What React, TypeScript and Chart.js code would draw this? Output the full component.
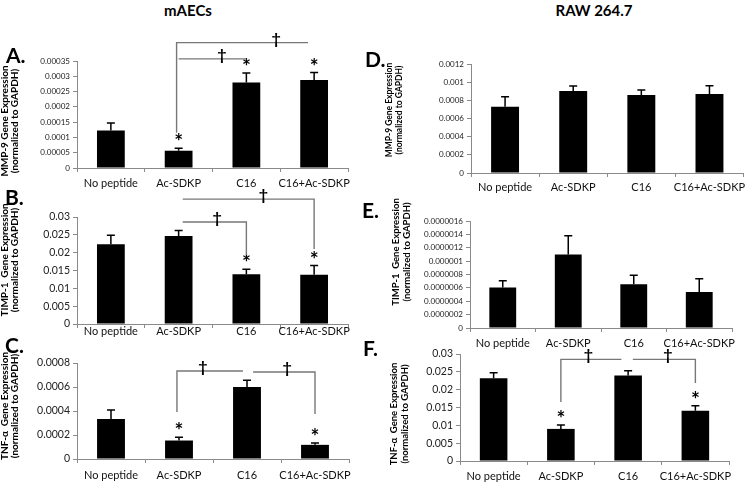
import React, { useEffect, useRef } from "react";
import { Chart, registerables } from "chart.js";

Chart.register(...registerables);

// ---------- DATA ----------
const categories = ["No peptide", "Ac-SDKP", "C16", "C16+Ac-SDKP"];

// A. mAECs – MMP-9
const aecsMmp9 = [0.000123, 0.0000565, 0.00028, 0.000288];
const aecsMmp9Err = [0.000024, 0.0000085, 0.000031, 0.000024];
const aecsMmp9Ticks = [0, 0.00005, 0.0001, 0.00015, 0.0002, 0.00025, 0.0003, 0.00035];
const aecsMmp9Stars = [false, true, true, true];
const aecsMmp9Brackets = [
  { from: 0.97, to: 2.91, level: 0.00041, fromDrop: 0.000115, toDrop: null, mark: 2.44 },
  { from: 1.0, to: 2.0, level: 0.000357, fromDrop: null, toDrop: null, mark: 1.64 },
];

// B. mAECs – TIMP-1
const aecsTimp1 = [0.02235, 0.0247, 0.01397, 0.0138];
const aecsTimp1Err = [0.0025, 0.0015, 0.0014, 0.0026];
const aecsTimp1Ticks = [0, 0.005, 0.01, 0.015, 0.02, 0.025, 0.03];
const aecsTimp1Stars = [false, false, true, true];
const aecsTimp1Brackets = [
  { from: 1.06, to: 3.0, level: 0.035, fromDrop: null, toDrop: 0.021, mark: 2.25 },
  { from: 1.06, to: 2.0, level: 0.0286, fromDrop: null, toDrop: 0.01935, mark: 1.57 },
];

// C. mAECs – TNF-α
const aecsTnf = [0.000334, 0.000154, 0.000601, 0.000118];
const aecsTnfErr = [0.000074, 0.000028, 0.000056, 0.000015];
const aecsTnfTicks = [0, 0.0002, 0.0004, 0.0006, 0.0008];
const aecsTnfStars = [false, true, false, true];
const aecsTnfBrackets = [
  { from: 0.97, to: 1.94, level: 0.000733, fromDrop: 0.000392, toDrop: null, mark: 1.35 },
  { from: 2.09, to: 3.0, level: 0.000725, fromDrop: null, toDrop: 0.000375, mark: 2.59 },
];

// D. RAW 264.7 – MMP-9
const rawMmp9 = [0.00073, 0.000903, 0.000858, 0.00087];
const rawMmp9Err = [0.00011, 0.000055, 0.000056, 0.00009];
const rawMmp9Ticks = [0, 0.0002, 0.0004, 0.0006, 0.0008, 0.001, 0.0012];
const rawMmp9Stars = [false, false, false, false];
const rawMmp9Brackets: any[] = [];

// E. RAW 264.7 – TIMP-1
const rawTimp1 = [0.000000605, 0.0000011, 0.000000655, 0.00000054];
const rawTimp1Err = [0.0000001, 0.00000028, 0.000000135, 0.000000195];
const rawTimp1Ticks = [0, 0.0000002, 0.0000004, 0.0000006, 0.0000008, 0.000001, 0.0000012, 0.0000014, 0.0000016];
const rawTimp1Stars = [false, false, false, false];
const rawTimp1Brackets: any[] = [];

// F. RAW 264.7 – TNF-α
const rawTnf = [0.02323, 0.009, 0.024, 0.0141];
const rawTnfErr = [0.0015, 0.0011, 0.0013, 0.0014];
const rawTnfTicks = [0, 0.005, 0.01, 0.015, 0.02, 0.025, 0.03];
const rawTnfStars = [false, true, false, true];
const rawTnfBrackets = [
  { from: 1.0, to: 1.9, level: 0.0285, fromDrop: 0.01654, toDrop: null, mark: 1.41 },
  { from: 2.07, to: 3.0, level: 0.0285, fromDrop: null, toDrop: 0.0219, mark: 2.59 },
];

const mmpTitle = ["MMP-9 Gene Expression", "(normalized to GAPDH)"];
const timpTitle = ["TIMP-1  Gene Expression", "(normalized to GAPDH)"];
const tnfTitle = ["TNF-\u03b1  Gene Expression", "(normalized to GAPDH)"];

// ---------- LAYOUT ----------
const FONT = "Lato";
const AXIS = "#8a8a8a";
const PAD_TOP = 40;
const X_H = 28;

type Box = {
  left: number; axisX: number; top: number; zero: number; right: number; labelDy: number;
  yFont: number; padRight: number; titleX: number; titleCy: number; titleSize: number;
};

const panels = [
  { values: aecsMmp9, errors: aecsMmp9Err, ticks: aecsMmp9Ticks, stars: aecsMmp9Stars, brackets: aecsMmp9Brackets, title: mmpTitle,
    box: { left: -1, axisX: 77, top: 61, zero: 168, right: 348, labelDy: 15, yFont: 8, padRight: 12, titleX: 4.5, titleCy: 121, titleSize: 10 } },
  { values: aecsTimp1, errors: aecsTimp1Err, ticks: aecsTimp1Ticks, stars: aecsTimp1Stars, brackets: aecsTimp1Brackets, title: timpTitle,
    box: { left: -1, axisX: 77, top: 217, zero: 324, right: 348, labelDy: 7, yFont: 10.5, padRight: 12, titleX: 4.5, titleCy: 260, titleSize: 10 } },
  { values: aecsTnf, errors: aecsTnfErr, ticks: aecsTnfTicks, stars: aecsTnfStars, brackets: aecsTnfBrackets, title: tnfTitle,
    box: { left: -1, axisX: 77, top: 363, zero: 459, right: 349, labelDy: 16, yFont: 10.5, padRight: 12, titleX: 4.5, titleCy: 406, titleSize: 10 } },
  { values: rawMmp9, errors: rawMmp9Err, ticks: rawMmp9Ticks, stars: rawMmp9Stars, brackets: rawMmp9Brackets, title: mmpTitle,
    box: { left: 383, axisX: 471, top: 64, zero: 173, right: 745, labelDy: 14, yFont: 8, padRight: 4, titleX: 389, titleCy: 110, titleSize: 8.5 } },
  { values: rawTimp1, errors: rawTimp1Err, ticks: rawTimp1Ticks, stars: rawTimp1Stars, brackets: rawTimp1Brackets, title: timpTitle,
    box: { left: 390, axisX: 470, top: 221, zero: 328, right: 732, labelDy: 15, yFont: 8, padRight: 12, titleX: 396, titleCy: 252, titleSize: 9.5 } },
  { values: rawTnf, errors: rawTnfErr, ticks: rawTnfTicks, stars: rawTnfStars, brackets: rawTnfBrackets, title: tnfTitle,
    box: { left: 388, axisX: 460, top: 354, zero: 461, right: 729, labelDy: 15, yFont: 10.5, padRight: 12, titleX: 394, titleCy: 414, titleSize: 9.5 } },
];

const letters = [
  { t: "A.", x: 6, y: 45 },
  { t: "B.", x: 5, y: 187 },
  { t: "C.", x: 5, y: 335 },
  { t: "D.", x: 365, y: 49 },
  { t: "E.", x: 362, y: 200 },
  { t: "F.", x: 363, y: 338 },
];

function fmt(v: number): string {
  let s = Number(v).toFixed(10).replace(/0+$/, "");
  if (s.endsWith(".")) s = s.slice(0, -1);
  return s;
}

function Panel(p: any) {
  const ref = useRef<HTMLCanvasElement>(null);
  const b: Box = p.box;
  const width = b.right + b.padRight - b.left;
  const height = PAD_TOP + (b.zero - b.top) + X_H;
  const canvasTop = b.top - PAD_TOP;
  useEffect(() => {
    const canvas = ref.current;
    if (!canvas) return;
    const xFontSize = 11;
    let lh = xFontSize * 1.2;
    let labelPad = b.labelDy - 4 - lh / 2;
    if (labelPad < 0) {
      labelPad = 0;
      lh = 2 * (b.labelDy - 4);
    }
    const annot = {
      id: "annot",
      afterDatasetsDraw(chart: any) {
        const { ctx } = chart;
        const xs = chart.scales.x;
        const ys = chart.scales.y;
        const meta = chart.getDatasetMeta(0);
        ctx.save();
        p.values.forEach((v: number, i: number) => {
          const bx = meta.data[i].x;
          const yv = ys.getPixelForValue(v);
          const yt = ys.getPixelForValue(v + p.errors[i]);
          ctx.strokeStyle = "#000";
          ctx.lineWidth = 1.5;
          ctx.beginPath();
          ctx.moveTo(bx, yv);
          ctx.lineTo(bx, yt);
          ctx.moveTo(bx - 4, yt);
          ctx.lineTo(bx + 4, yt);
          ctx.stroke();
          if (p.stars[i]) {
            ctx.fillStyle = "#000";
            ctx.font = `bold 21px ${FONT}`;
            ctx.textAlign = "center";
            ctx.textBaseline = "alphabetic";
            ctx.fillText("*", bx, yt + 1);
          }
        });
        p.brackets.forEach((br: any) => {
          const x1 = xs.getPixelForValue(br.from);
          const x2 = xs.getPixelForValue(br.to);
          const yl = ys.getPixelForValue(br.level);
          ctx.strokeStyle = "#777";
          ctx.lineWidth = 1.4;
          ctx.beginPath();
          if (br.fromDrop !== null) {
            ctx.moveTo(x1, ys.getPixelForValue(br.fromDrop));
            ctx.lineTo(x1, yl);
          } else {
            ctx.moveTo(x1, yl);
          }
          ctx.lineTo(x2, yl);
          if (br.toDrop !== null) ctx.lineTo(x2, ys.getPixelForValue(br.toDrop));
          ctx.stroke();
          ctx.fillStyle = "#000";
          ctx.font = `bold 16px ${FONT}`;
          ctx.textAlign = "center";
          ctx.textBaseline = "alphabetic";
          ctx.fillText("\u2020", xs.getPixelForValue(br.mark), yl + 1);
        });
        // rotated two-line y-axis title
        ctx.fillStyle = "#000";
        ctx.font = `bold ${b.titleSize}px ${FONT}`;
        ctx.textAlign = "center";
        ctx.textBaseline = "middle";
        p.title.forEach((line: string, k: number) => {
          ctx.save();
          ctx.translate(b.titleX - b.left + k * 10.5, b.titleCy - canvasTop);
          ctx.rotate(-Math.PI / 2);
          ctx.fillText(line, 0, 0);
          ctx.restore();
        });
        ctx.restore();
      },
    };
    const chart = new Chart(canvas, {
      type: "bar",
      data: {
        labels: categories,
        datasets: [
          {
            data: p.values,
            backgroundColor: "#000",
            borderWidth: 0,
            barPercentage: 0.41,
            categoryPercentage: 1,
          },
        ],
      },
      options: {
        responsive: false,
        animation: false,
        events: [],
        layout: { padding: { top: PAD_TOP, right: b.padRight, left: 0, bottom: 0 } },
        plugins: { legend: { display: false }, tooltip: { enabled: false } },
        scales: {
          x: {
            grid: { offset: true, drawOnChartArea: false, tickLength: 4, color: AXIS, lineWidth: 1 },
            border: { color: AXIS, width: 1 },
            ticks: {
              font: { family: FONT, size: xFontSize, lineHeight: `${lh}px` },
              color: "#111",
              padding: labelPad,
              maxRotation: 0,
              minRotation: 0,
              autoSkip: false,
            },
            afterFit: (s: any) => {
              s.height = X_H;
            },
          },
          y: {
            min: 0,
            max: p.ticks[p.ticks.length - 1],
            grid: { drawOnChartArea: false, tickLength: 4, color: AXIS, lineWidth: 1 },
            border: { color: AXIS, width: 1 },
            ticks: {
              font: { family: FONT, size: b.yFont },
              color: "#222",
              padding: 3,
              callback: (v: any) => fmt(v),
            },
            afterBuildTicks: (s: any) => {
              s.ticks = p.ticks.map((v: number) => ({ value: v }));
            },
            afterFit: (s: any) => {
              s.width = b.axisX - b.left;
            },
            title: { display: false },
          },
        },
      } as any,
      plugins: [annot as any],
    });
    return () => chart.destroy();
  }, []);
  return (
    <canvas
      ref={ref}
      width={width}
      height={height}
      style={{ position: "absolute", left: b.left, top: canvasTop, width, height }}
    />
  );
}

export default function App() {
  return (
    <div
      style={{
        position: "absolute",
        left: 0,
        top: 0,
        width: 750,
        height: 484,
        overflow: "hidden",
        background: "#fff",
        fontFamily: FONT,
      }}
    >
      <div style={{ position: "absolute", left: 138, top: 3, width: 100, textAlign: "center", fontWeight: "bold", fontSize: 15, lineHeight: "15px" }}>
        mAECs
      </div>
      <div style={{ position: "absolute", left: 534, top: 3, width: 120, textAlign: "center", fontWeight: "bold", fontSize: 15, lineHeight: "15px" }}>
        RAW 264.7
      </div>
      {panels.map((p, i) => (
        <Panel key={i} {...p} />
      ))}
      {letters.map((l, i) => (
        <div key={"l" + i} style={{ position: "absolute", left: l.x, top: l.y, fontWeight: "bold", fontSize: 21, lineHeight: "20px" }}>
          {l.t}
        </div>
      ))}
    </div>
  );
}
